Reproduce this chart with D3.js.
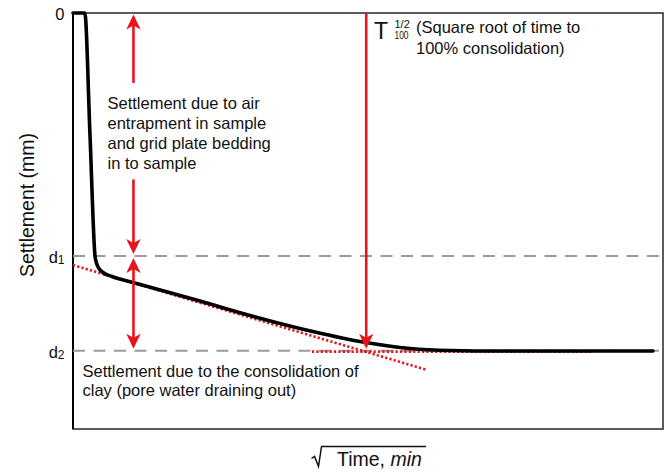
<!DOCTYPE html>
<html>
<head>
<meta charset="utf-8">
<script src="https://cdn.jsdelivr.net/npm/d3@7"></script>
<style>
  html, body { margin: 0; padding: 0; background: #fff; }
  svg { display: block; font-family: "Liberation Sans", Arial, Helvetica, sans-serif; }
</style>
</head>
<body>
<svg id="chart" width="670" height="475"></svg>
<script>
// ---------------- data ----------------
// x: square root of time (arbitrary units), y: settlement (arbitrary mm units)
const curveX = [0, 0.20, 0.288, 0.373, 0.398, 0.441, 0.508, 0.661, 1.017, 2.153, 3.0, 3.847, 4.915, 5.712, 6.39, 7.237, 9.83];
const curveY = [0, 0, 1.466, 2.921, 3.005, 3.071, 3.119, 3.167, 3.239, 3.462, 3.636, 3.792, 3.954, 4.032, 4.056, 4.062, 4.062];

const yTickLabels = ["0", "d", "d"];
const yTickSubs = ["", "1", "2"];
const d1 = 2.92, d2 = 4.06;
const yTickValues = [0, d1, d2];

const tangentX = [0, 6.0];
const tangentY = [3.03, 4.29];
const flatX = [4.05, 8.81];
const flatY = [4.07, 4.07];

const t100X = 4.97;
const bracketX = 1.025;
const textGap = [0.84, 2.0];   // gap in the upper double arrow for the label

const labelAir = ["Settlement due to air", "entrapment in sample", "and grid plate bedding", "in to sample"];
const labelClay = ["Settlement due to the consolidation of", "clay (pore water draining out)"];
const labelT100 = ["(Square root of time to", "100% consolidation)"];

// ---------------- layout ----------------
const svg = d3.select("#chart");
const mLeft = 73, mRight = 663, mTop = 13, mBottom = 429;
const x = d3.scaleLinear().domain([0, 10]).range([mLeft, mRight]);
const y = d3.scaleLinear().domain([0, 5]).range([mTop, mBottom]);
const RED = "#e8141c";

// frame
svg.append("rect").attr("x", mLeft).attr("y", mTop).attr("width", mRight - mLeft).attr("height", mBottom - mTop)
  .attr("fill", "none").attr("stroke", "#333").attr("stroke-width", 1.6);
svg.append("line").attr("x1", mLeft).attr("x2", mLeft).attr("y1", mTop).attr("y2", mBottom)
  .attr("stroke", "#000").attr("stroke-width", 2);

// y ticks (labels only)
const tickG = svg.append("g");
yTickValues.forEach((v, i) => {
  const t = tickG.append("text").attr("x", 64.5).attr("y", y(v) + 7)
    .attr("text-anchor", "end").attr("font-size", 16.5).attr("fill", "#111");
  t.append("tspan").text(yTickLabels[i]);
  if (yTickSubs[i]) t.append("tspan").attr("font-size", 12).attr("dy", 1).text(yTickSubs[i]);
});

// grey dashed reference lines at d1, d2
[d1, d2].forEach(v => {
  svg.append("line").attr("x1", x(0)).attr("x2", x(10)).attr("y1", y(v)).attr("y2", y(v))
    .attr("stroke", "#9a9a9a").attr("stroke-width", 2).attr("stroke-dasharray", "12,8.5");
});

// red dotted construction lines
const lineGen = d3.line().x(d => x(d[0])).y(d => y(d[1]));
svg.append("path").attr("d", lineGen(d3.zip(tangentX, tangentY)))
  .attr("fill", "none").attr("stroke", RED).attr("stroke-width", 2.6).attr("stroke-dasharray", "2.2,2.2");
svg.append("path").attr("d", lineGen(d3.zip(flatX, flatY)))
  .attr("fill", "none").attr("stroke", RED).attr("stroke-width", 2.6).attr("stroke-dasharray", "2.2,2.2");

// settlement curve
const curveGen = d3.line().x(d => x(d[0])).y(d => y(d[1])).curve(d3.curveMonotoneX);
svg.append("path").attr("d", curveGen(d3.zip(curveX, curveY)))
  .attr("fill", "none").attr("stroke", "#000").attr("stroke-width", 3.6)
  .attr("stroke-linejoin", "round").attr("stroke-linecap", "round");

// arrows
function arrowHead(px, py, dir) { // dir = -1 up, +1 down ; tip at (px,py)
  const L = 15, W = 7.2, N = 11;
  const p = [[px, py], [px - W, py - dir * L], [px, py - dir * N], [px + W, py - dir * L]];
  svg.append("path").attr("d", "M" + p.map(q => q.join(",")).join("L") + "Z").attr("fill", RED);
}
function seg(px, y1, y2) {
  svg.append("line").attr("x1", px).attr("x2", px).attr("y1", y1).attr("y2", y2)
    .attr("stroke", RED).attr("stroke-width", 2.6);
}
// T100 arrow
const tx = x(t100X);
seg(tx, y(0), y(d2) - 8);
arrowHead(tx, y(d2) - 2, 1);
// upper double arrow (0 -> d1)
const bx = x(bracketX);
seg(bx, y(0) + 10, y(textGap[0]));
arrowHead(bx, y(0) + 1.5, -1);
seg(bx, y(textGap[1]), y(d1) - 10);
arrowHead(bx, y(d1) - 2, 1);
// lower double arrow (d1 -> d2)
seg(bx, y(d1) + 10, y(d2) - 10);
arrowHead(bx, y(d1) + 2, -1);
arrowHead(bx, y(d2) - 2, 1);

// annotation text
const FS = 16.5;
const tA = svg.append("text").attr("font-size", FS).attr("fill", "#111");
labelAir.forEach((s, i) => tA.append("tspan").attr("x", 107.5).attr("y", 108.5 + i * 20).text(s));
const tC = svg.append("text").attr("font-size", FS).attr("fill", "#111");
labelClay.forEach((s, i) => tC.append("tspan").attr("x", 82.5).attr("y", 376.5 + i * 19.5).text(s));
const tT = svg.append("text").attr("font-size", FS).attr("fill", "#111");
labelT100.forEach((s, i) => tT.append("tspan").attr("x", 416).attr("y", 33 + i * 21).text(s));

// T^{1/2}_{100}
svg.append("text").attr("x", 374).attr("y", 38.5).attr("font-size", 23).attr("fill", "#111").text("T");
svg.append("text").attr("x", 394.5).attr("y", 28).attr("font-size", 11).attr("fill", "#111").text("1/2");
svg.append("text").attr("x", 394.5).attr("y", 39.3).attr("font-size", 11).attr("fill", "#111")
  .attr("textLength", 14).attr("lengthAdjust", "spacingAndGlyphs").text("100");

// axis titles
svg.append("text").attr("transform", "translate(34,205) rotate(-90)")
  .attr("text-anchor", "middle").attr("font-size", 19.5).attr("fill", "#111").text("Settlement (mm)");

const xt = svg.append("text").attr("x", 337).attr("y", 466).attr("font-size", 19.5).attr("fill", "#111");
xt.append("tspan").text("Time, ");
xt.append("tspan").attr("font-style", "italic").text("min");
// radical sign with vinculum over the label
svg.append("path")
  .attr("d", "M311.5,458.5 L314.5,456.5 L318.5,466.5 L321.5,446.5")
  .attr("fill", "none").attr("stroke", "#111").attr("stroke-width", 1.5);
svg.append("line").attr("x1", 321).attr("x2", 426).attr("y1", 446.5).attr("y2", 446.5)
  .attr("stroke", "#111").attr("stroke-width", 1.4);
</script>
</body>
</html>
